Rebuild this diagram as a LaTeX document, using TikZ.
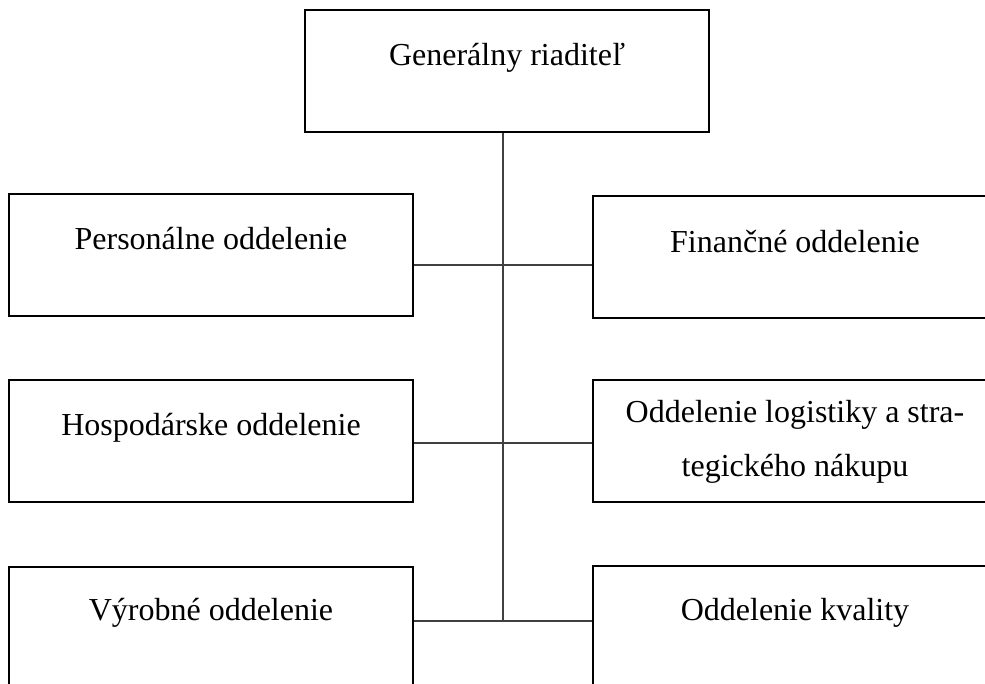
\documentclass[tikz,border=0pt]{standalone}
\usepackage{fontspec}
\setmainfont{Liberation Serif}
\usetikzlibrary{calc}
\definecolor{linegray}{HTML}{404040}
\tikzset{
  orgbox/.style={draw=black, line width=1.5pt, rectangle, minimum width=303pt, minimum height=91.5pt, inner sep=0pt},
  lbl/.style={anchor=base, inner sep=0pt, font=\fontsize{24}{40.5}\selectfont, align=center},
  conn/.style={draw=linegray, line width=1pt}
}
\begin{document}
\begin{tikzpicture}[x=0.75pt, y=-0.75pt]
\useasboundingbox (0,0) rectangle (985,683);
\clip (0,0) rectangle (985,683);
\fill[white] (0,0) rectangle (985,683);
% boxes
\node[orgbox] (gr) at (507,71) {};
\node[orgbox] (pe) at (211,255) {};
\node[orgbox] (ho) at (211,441) {};
\node[orgbox] (vy) at (211,628) {};
\node[orgbox] (fi) at (795,256.5) {};
\node[orgbox] (lo) at (795,440.5) {};
\node[orgbox] (kv) at (795,627) {};
% texts
\node[lbl] (tgr) at (507,65) {Generálny riaditeľ};
\node[lbl] (tpe) at (211,249) {Personálne oddelenie};
\node[lbl] (tho) at (211,435) {Hospodárske oddelenie};
\node[lbl] (tvy) at (211,620) {Výrobné oddelenie};
\node[lbl] (tfi) at (795,252) {Finančné oddelenie};
\node[lbl] (tlo) at (795,476) {Oddelenie logistiky a stra-\\tegického nákupu};
\node[lbl] (tkv) at (795,620) {Oddelenie kvality};
% junctions
\coordinate (j1) at (503,265);
\coordinate (j2) at (503,443);
\coordinate (j3) at (503,621);
% connectors
\draw[conn] (gr.south -| j1) -- (j3);
\draw[conn] (pe.east |- j1) -- (fi.west |- j1);
\draw[conn] (ho.east |- j2) -- (lo.west |- j2);
\draw[conn] (vy.east |- j3) -- (kv.west |- j3);
\end{tikzpicture}
\end{document}
